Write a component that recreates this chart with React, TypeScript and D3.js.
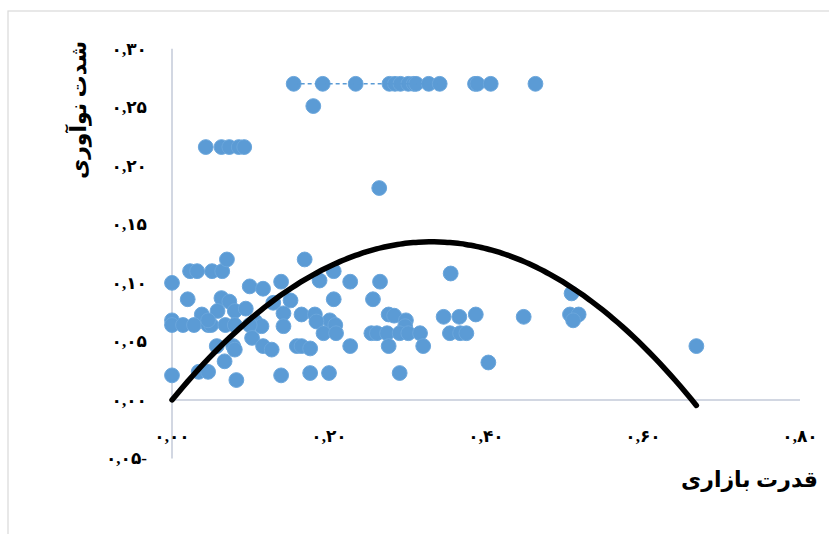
import React from "react";
import * as d3 from "d3";

const width = 829;
const height = 534;

// market power (x) and innovation intensity (y)
const marketPower = [
  0.155, 0.192, 0.234, 0.277, 0.284, 0.291, 0.301, 0.308, 0.311, 0.327, 0.341, 0.386, 0.389, 0.406, 0.463,
  0.18,
  0.043, 0.063, 0.073, 0.085, 0.092,
  0.264,
  0.0, 0.023, 0.032, 0.051, 0.064, 0.07, 0.169, 0.099, 0.116, 0.139, 0.188, 0.206, 0.227, 0.265, 0.355,
  0.02, 0.063, 0.073, 0.151, 0.206, 0.256,
  0.058, 0.08, 0.094, 0.129, 0.038, 0.142, 0.165, 0.182, 0.201, 0.208,
  0.106, 0.114, 0.142, 0.184, 0.276, 0.283, 0.298, 0.297, 0.346, 0.366, 0.387, 0.448,
  0.509, 0.507, 0.518, 0.511,
  0.0, 0.0, 0.014, 0.028, 0.046, 0.05, 0.068, 0.08, 0.099, 0.046,
  0.193, 0.209, 0.102, 0.254, 0.261, 0.274, 0.29, 0.301, 0.316, 0.354, 0.367, 0.375,
  0.057, 0.078, 0.08, 0.116, 0.127, 0.159, 0.165, 0.176, 0.227, 0.276, 0.32, 0.668,
  0.067, 0.403, 0.034, 0.046, 0.0, 0.082, 0.139, 0.176, 0.2, 0.29,
];
const innovation = [
  0.27, 0.27, 0.27, 0.27, 0.27, 0.27, 0.27, 0.27, 0.27, 0.27, 0.27, 0.27, 0.27, 0.27, 0.27,
  0.251,
  0.216, 0.216, 0.216, 0.216, 0.216,
  0.181,
  0.1, 0.11, 0.11, 0.11, 0.11, 0.12, 0.12, 0.097, 0.095, 0.101, 0.102, 0.11, 0.101, 0.101, 0.108,
  0.086, 0.087, 0.084, 0.085, 0.086, 0.086,
  0.076, 0.076, 0.078, 0.083, 0.073, 0.074, 0.073, 0.073, 0.068, 0.064,
  0.067, 0.063, 0.063, 0.067, 0.073, 0.072, 0.068, 0.063, 0.071, 0.071, 0.073, 0.071,
  0.091, 0.073, 0.073, 0.068,
  0.068, 0.064, 0.064, 0.064, 0.064, 0.064, 0.064, 0.064, 0.064, 0.068,
  0.057, 0.057, 0.053, 0.057, 0.057, 0.057, 0.057, 0.057, 0.057, 0.057, 0.057, 0.057,
  0.046, 0.046, 0.043, 0.046, 0.043, 0.046, 0.046, 0.044, 0.046, 0.046, 0.046, 0.046,
  0.033, 0.032, 0.024, 0.024, 0.021, 0.017, 0.021, 0.023, 0.023, 0.023,
];

// polynomial (order 2) trend: y = a*x + b*x^2
const trendCoef = [0.0, 0.816, -1.232];

const xTicks = [0, 0.2, 0.4, 0.6, 0.8];
const xTickLabels = ["۰,۰۰", "۰,۲۰", "۰,۴۰", "۰,۶۰", "۰,۸۰"];
const yTicks = [-0.05, 0, 0.05, 0.1, 0.15, 0.2, 0.25, 0.3];
const yTickLabels = ["۰,۰۵-", "۰,۰۰", "۰,۰۵", "۰,۱۰", "۰,۱۵", "۰,۲۰", "۰,۲۵", "۰,۳۰"];

const xTitle = "قدرت بازاری";
const yTitle = "شدت نوآوری";

const font = "'Liberation Serif', 'DejaVu Sans', serif";

export default function App() {
  const x = d3.scaleLinear().domain([0, 0.8]).range([172, 800]);
  const y = d3.scaleLinear().domain([-0.05, 0.3]).range([458.5, 48.7]);

  const points = marketPower.map((v, i) => ({ x: v, y: innovation[i] }));

  // the dashed link between the top-row points
  const linked = points
    .filter(p => p.y === 0.27 && p.x <= 0.345)
    .sort((a, b) => a.x - b.x);
  const linkLine = d3
    .line<{ x: number; y: number }>()
    .x(d => x(d.x))
    .y(d => y(d.y));

  const xMax = d3.max(marketPower) as number;
  const trendPts = d3.range(0, 101).map(i => {
    const t = (xMax * i) / 100;
    return { x: t, y: trendCoef[0] + trendCoef[1] * t + trendCoef[2] * t * t };
  });
  const trendLine = d3
    .line<{ x: number; y: number }>()
    .x(d => x(d.x))
    .y(d => y(d.y))
    .curve(d3.curveMonotoneX);

  return (
    <svg
      width={width}
      height={height}
      style={{ position: "absolute", left: 0, top: 0, background: "#fff" }}
    >
      <rect x={8} y={11} width={900} height={600} fill="#fff" stroke="#d9d9d9" strokeWidth={1.2} />

      {/* axes */}
      <line x1={x(0)} x2={x(0)} y1={y(0.3)} y2={y(-0.05)} stroke="#c3cad8" strokeWidth={1.5} />
      <line x1={x(0)} x2={x(0.8)} y1={y(0)} y2={y(0)} stroke="#c3cad8" strokeWidth={1.5} />

      {yTicks.map((t, i) => (
        <text
          key={"y" + i}
          x={147}
          y={y(t)}
          dy="0.35em"
          textAnchor="end"
          direction="ltr"
          fontFamily={font}
          fontWeight="bold"
          fontSize={17}
          fill="#000"
        >
          {yTickLabels[i]}
        </text>
      ))}
      {xTicks.map((t, i) => (
        <text
          key={"x" + i}
          x={x(t)}
          y={436}
          dy="0.35em"
          textAnchor="middle"
          direction="ltr"
          fontFamily={font}
          fontWeight="bold"
          fontSize={17}
          fill="#000"
        >
          {xTickLabels[i]}
        </text>
      ))}

      {/* points */}
      {points.map((p, i) => (
        <circle
          key={i}
          cx={x(p.x)}
          cy={y(p.y)}
          r={7.4}
          fill="#5b9bd5"
          stroke="#6aa6dc"
          strokeWidth={1}
        />
      ))}
      <path
        d={linkLine(linked) || ""}
        fill="none"
        stroke="#5b9bd5"
        strokeWidth={1.5}
        strokeDasharray="4,3"
      />

      {/* trend */}
      <path
        d={trendLine(trendPts) || ""}
        fill="none"
        stroke="#000"
        strokeWidth={5.5}
        strokeLinecap="round"
      />

      {/* titles */}
      <text
        transform={`translate(86,110) rotate(-90)`}
        textAnchor="middle"
        fontFamily={font}
        fontWeight="bold"
        fontSize={22}
        fill="#000"
      >
        {yTitle}
      </text>
      <text
        x={818}
        y={487}
        textAnchor="end"
        fontFamily={font}
        fontWeight="bold"
        fontSize={22}
        fill="#000"
      >
        {xTitle}
      </text>
    </svg>
  );
}
